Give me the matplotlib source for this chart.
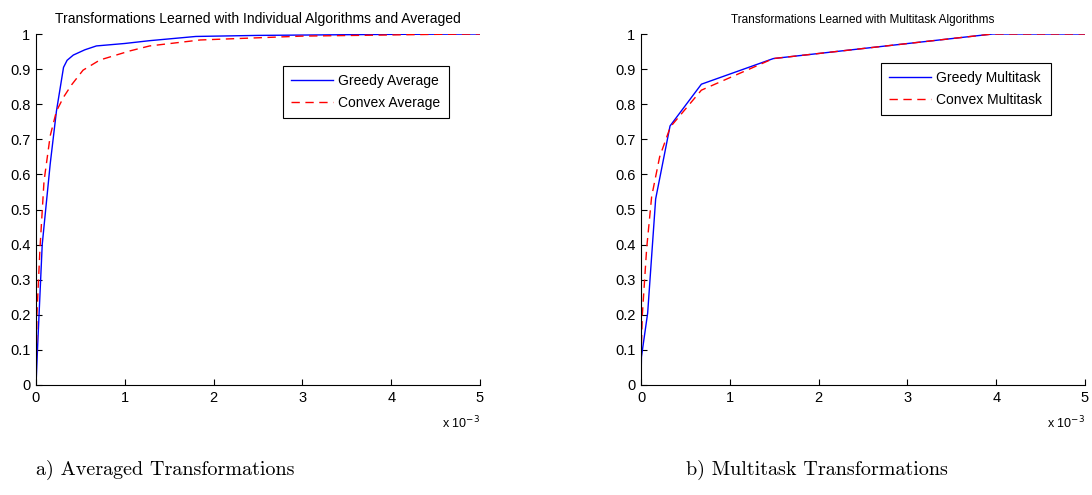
import matplotlib
matplotlib.use('Agg')
import matplotlib.pyplot as plt
from matplotlib.ticker import FuncFormatter

# left panel: averaged transformations (x in absolute units)
avg_greedy_x = [0, 0.02e-3, 0.07e-3, 0.16e-3, 0.23e-3, 0.31e-3, 0.35e-3, 0.42e-3, 0.55e-3,
                0.68e-3, 1.0e-3, 1.28e-3, 1.8e-3, 2.5e-3, 4.0e-3, 5.0e-3]
avg_greedy_y = [0, 0.12, 0.40, 0.63, 0.78, 0.905, 0.925, 0.94, 0.955,
                0.966, 0.973, 0.981, 0.993, 0.996, 0.999, 1.0]
avg_convex_x = [0, 0.005e-3, 0.01e-3, 0.045e-3, 0.09e-3, 0.16e-3, 0.23e-3, 0.31e-3, 0.40e-3,
                0.53e-3, 0.72e-3, 1.06e-3, 1.28e-3, 1.85e-3, 3.0e-3, 4.5e-3, 5.0e-3]
avg_convex_y = [0, 0.1, 0.2, 0.39, 0.58, 0.71, 0.78, 0.82, 0.855,
                0.897, 0.926, 0.952, 0.966, 0.983, 0.994, 0.999, 1.0]

# right panel: multitask transformations
mt_greedy_x = [0, 0.005e-3, 0.075e-3, 0.165e-3, 0.327e-3, 0.68e-3, 1.49e-3, 3.96e-3, 5.0e-3]
mt_greedy_y = [0, 0.08, 0.205, 0.53, 0.738, 0.857, 0.93, 1.0, 1.0]
mt_convex_x = [0, 0.003e-3, 0.015e-3, 0.064e-3, 0.12e-3, 0.21e-3, 0.33e-3, 0.68e-3,
               1.49e-3, 3.96e-3, 5.0e-3]
mt_convex_y = [0, 0.1, 0.2, 0.39, 0.537, 0.65, 0.735, 0.84, 0.93, 1.0, 1.0]

titles = ['Transformations Learned with Individual Algorithms and Averaged',
          'Transformations Learned with Multitask Algorithms']
captions = ['a) Averaged Transformations', 'b) Multitask Transformations']
labels = [('Greedy Average', 'Convex Average'), ('Greedy Multitask', 'Convex Multitask')]
xticks = [0, 1e-3, 2e-3, 3e-3, 4e-3, 5e-3]
yticks = [0, 0.1, 0.2, 0.3, 0.4, 0.5, 0.6, 0.7, 0.8, 0.9, 1.0]

plt.rcParams['font.family'] = ['Liberation Sans', 'DejaVu Sans']

fig = plt.figure(figsize=(10.92, 4.95), dpi=100)
ax1 = fig.add_axes([36 / 1092, 1 - 385 / 495, 444 / 1092, 351 / 495])
ax2 = fig.add_axes([641 / 1092, 1 - 385 / 495, 444 / 1092, 351 / 495])

series = [(ax1, avg_greedy_x, avg_greedy_y, avg_convex_x, avg_convex_y, (0.93, 0.909), 10),
          (ax2, mt_greedy_x, mt_greedy_y, mt_convex_x, mt_convex_y, (0.923, 0.918), 8.5)]

for i, (ax, gx, gy, cx, cy, anchor, tsize) in enumerate(series):
    ax.plot(gx, gy, color='#0000ff', lw=1.0, label=labels[i][0])
    ax.plot(cx, cy, color='#ff0000', lw=1.0, dashes=(6, 4), label=labels[i][1])
    ax.set_xlim(0, 5e-3)
    ax.set_ylim(0, 1)
    ax.set_xticks(xticks)
    ax.set_yticks(yticks)
    ax.xaxis.set_major_formatter(FuncFormatter(lambda v, p: '%g' % round(v * 1e3, 6)))
    ax.yaxis.set_major_formatter(FuncFormatter(lambda v, p: '%g' % round(v, 6)))
    ax.tick_params(direction='in', length=4, width=0.8, labelsize=10.5, pad=4, color='black')
    for s in ['top', 'right']:
        ax.spines[s].set_visible(False)
    for s in ['left', 'bottom']:
        ax.spines[s].set_linewidth(0.8)
    ax.set_title(titles[i], fontsize=tsize, pad=8)
    ax.text(1.0, -0.085, r'x 10$^{-3}$', transform=ax.transAxes, fontsize=9,
            ha='right', va='top')
    leg = ax.legend(loc='upper right', bbox_to_anchor=anchor, borderaxespad=0,
                    fancybox=False, framealpha=1, edgecolor='black', fontsize=10,
                    handlelength=3.0, handletextpad=0.4, borderpad=0.6, labelspacing=0.55)
    leg.get_frame().set_linewidth(0.8)

fig.text(165 / 1092, 1 - 470 / 495, captions[0], family='cmr10', fontsize=14.5,
         ha='center', va='center')
fig.text(817 / 1092, 1 - 470 / 495, captions[1], family='cmr10', fontsize=14.5,
         ha='center', va='center')

fig.savefig('out.png', dpi=100)
